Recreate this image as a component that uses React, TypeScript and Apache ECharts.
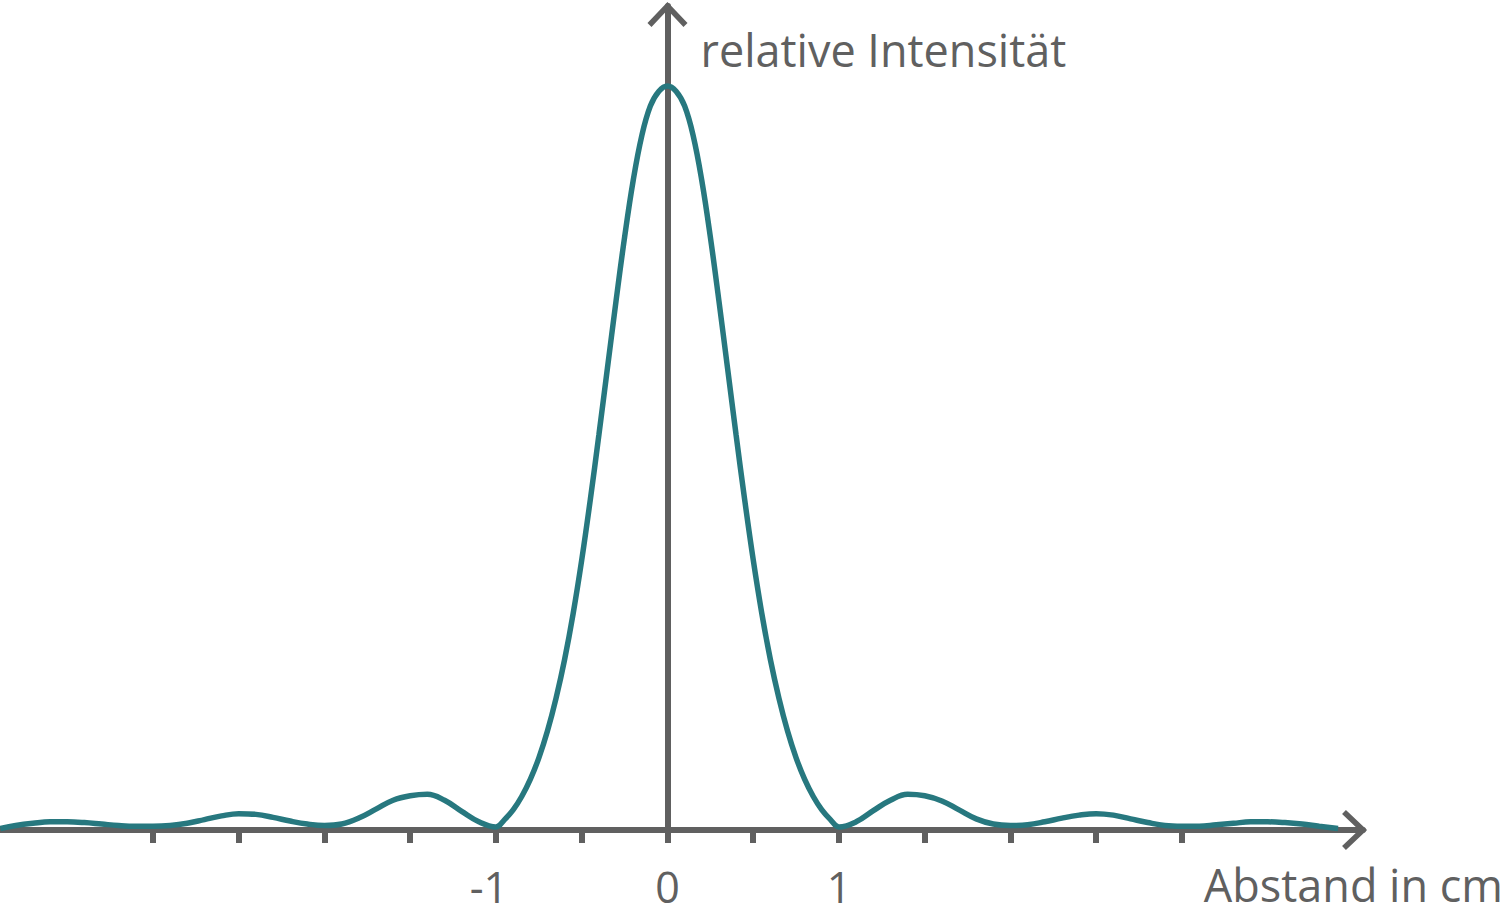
import React, { useEffect, useRef } from "react";
import * as echarts from "echarts";

// distance from the centre (cm)
const xValues = [
  -3.89, -3.8, -3.7, -3.6, -3.5, -3.4, -3.3, -3.2, -3.1, -3.0,
  -2.9, -2.8, -2.7, -2.6, -2.5, -2.4, -2.3, -2.2, -2.1, -2.0,
  -1.9, -1.8, -1.7, -1.6, -1.5, -1.4, -1.3, -1.2, -1.1, -1.0,
  -0.95, -0.9, -0.85, -0.8, -0.75, -0.7, -0.65, -0.6, -0.55, -0.5,
  -0.45, -0.4, -0.35, -0.3, -0.25, -0.2, -0.15, -0.1, -0.05, 0,
  0.05, 0.1, 0.15, 0.2, 0.25, 0.3, 0.35, 0.4, 0.45, 0.5,
  0.55, 0.6, 0.65, 0.7, 0.75, 0.8, 0.85, 0.9, 0.95, 1.0,
  1.1, 1.2, 1.3, 1.4, 1.5, 1.6, 1.7, 1.8, 1.9, 2.0,
  2.1, 2.2, 2.3, 2.4, 2.5, 2.6, 2.7, 2.8, 2.9, 3.0,
  3.1, 3.2, 3.3, 3.4, 3.5, 3.6, 3.7, 3.8, 3.91,
];

// relative intensity
const intensity = [
  0.002, 0.006, 0.009, 0.011, 0.011, 0.010, 0.008, 0.006, 0.005, 0.005,
  0.006, 0.009, 0.014, 0.019, 0.022, 0.021, 0.017, 0.012, 0.008, 0.006,
  0.008, 0.016, 0.028, 0.040, 0.046, 0.048, 0.040, 0.025, 0.011, 0.004,
  0.014, 0.027, 0.045, 0.068, 0.097, 0.133, 0.177, 0.229, 0.291, 0.363,
  0.444, 0.531, 0.621, 0.711, 0.797, 0.873, 0.933, 0.973, 0.993, 1.000,
  0.993, 0.973, 0.933, 0.873, 0.797, 0.711, 0.621, 0.531, 0.444, 0.363,
  0.291, 0.229, 0.177, 0.133, 0.097, 0.068, 0.045, 0.027, 0.014, 0.004,
  0.011, 0.026, 0.040, 0.048, 0.046, 0.039, 0.027, 0.015, 0.008, 0.006,
  0.007, 0.011, 0.016, 0.020, 0.022, 0.020, 0.015, 0.010, 0.006, 0.005,
  0.005, 0.007, 0.009, 0.011, 0.011, 0.010, 0.008, 0.005, 0.002,
];

const tickValues = [-3, -2.5, -2, -1.5, -1, -0.5, 0, 0.5, 1, 1.5, 2, 2.5, 3];
const labelValues = [-1, 0, 1];
const xAxisName = "Abstand in cm";
const yAxisName = "relative Intensität";

const ARROW =
  "path://M0,-4.07L20.03,17.07L15.97,20.93L0,4.07L-15.97,20.93L-20.03,17.07Z";

export default function App() {
  const ref = useRef<HTMLDivElement>(null);
  useEffect(() => {
    const chart = echarts.init(ref.current!, null, { renderer: "svg" });
    const gray = "#606060";
    const font = "'Open Sans', sans-serif";
    chart.setOption({
      animation: false,
      grid: { left: 0, right: 144, top: 6, bottom: 88, containLabel: false },
      xAxis: {
        type: "value",
        min: -3.892,
        max: 4.0554,
        name: xAxisName,
        nameLocation: "end",
        nameGap: 140,
        nameTextStyle: {
          color: gray,
          fontFamily: font,
          fontSize: 45,
          align: "right",
          verticalAlign: "top",
          padding: [32, 0, 0, 0],
        },
        axisLine: {
          show: true,
          onZero: true,
          symbol: ["none", ARROW],
          symbolSize: [40.06, 25],
          symbolOffset: [0, -8.43],
          lineStyle: { color: gray, width: 6 },
        },
        axisTick: {
          show: true,
          customValues: tickValues,
          length: 13,
          lineStyle: { color: gray, width: 6 },
        },
        axisLabel: {
          show: true,
          customValues: labelValues,
          margin: 35,
          color: gray,
          fontFamily: font,
          fontSize: 43,
          formatter: (v: number) => (v < 0 ? "{neg|" + String(v) + "}" : String(v)),
          rich: {
            neg: {
              color: gray,
              fontFamily: font,
              fontSize: 43,
              padding: [0, 14, 0, 0],
            },
          },
        },
        splitLine: { show: false },
      },
      yAxis: {
        type: "value",
        min: 0,
        max: 1.1075,
        name: yAxisName,
        nameLocation: "end",
        nameGap: -21,
        nameTextStyle: {
          color: gray,
          fontFamily: font,
          fontSize: 45,
          align: "left",
          verticalAlign: "top",
          padding: [0, 0, 0, 33],
        },
        axisLine: {
          show: true,
          onZero: true,
          symbol: ["none", ARROW],
          symbolSize: [40.06, 25],
          symbolOffset: [0, -8.43],
          lineStyle: { color: gray, width: 6 },
        },
        axisTick: { show: false },
        axisLabel: { show: false },
        splitLine: { show: false },
      },
      series: [
        {
          type: "line",
          data: xValues.map((x, i) => [x, intensity[i]]),
          showSymbol: false,
          smooth: 0.4,
          lineStyle: { color: "#27787f", width: 5.5 },
          z: 5,
        },
      ],
    });
    return () => chart.dispose();
  }, []);
  return (
    <div
      ref={ref}
      style={{ position: "absolute", left: 0, top: 0, width: 1507, height: 918 }}
    />
  );
}
